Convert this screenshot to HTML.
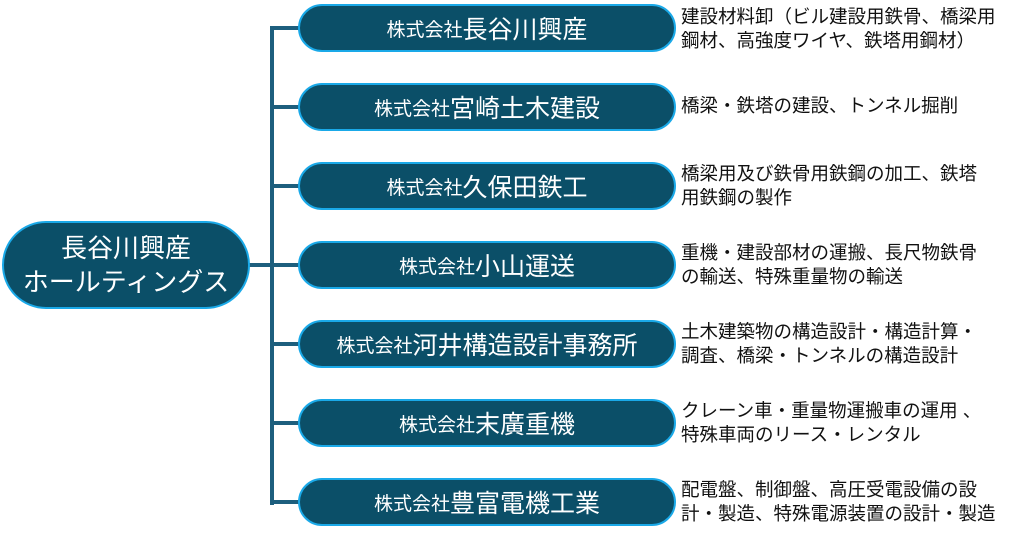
<!DOCTYPE html>
<html><head><meta charset="utf-8"><style>
body{margin:0;width:1024px;height:536px;background:#fff;position:relative;overflow:hidden;font-family:"Liberation Sans","Noto Sans CJK JP",sans-serif}
.b{position:absolute;background:#0b4f68;border:2px solid #1aa9e8;box-sizing:border-box;color:#fff;display:flex;align-items:center;justify-content:center;text-align:center}
.c{left:298px;width:378px;height:48px;border-radius:24px;font-size:25px}
.c small{font-size:19px}
.l{position:absolute;background:#1d5f7e}
.t{position:absolute;left:681px;font-size:18.5px;line-height:24px;color:#111;white-space:nowrap}
</style></head><body>
<div class="l" style="left:270px;top:27px;width:4px;height:478px"></div>
<div class="l" style="left:248px;top:263px;width:52px;height:4px"></div>
<div class="l" style="left:270px;top:26px;width:30px;height:4px"></div>
<div class="l" style="left:270px;top:105px;width:30px;height:4px"></div>
<div class="l" style="left:270px;top:184px;width:30px;height:4px"></div>
<div class="l" style="left:270px;top:342px;width:30px;height:4px"></div>
<div class="l" style="left:270px;top:421px;width:30px;height:4px"></div>
<div class="l" style="left:270px;top:500px;width:30px;height:4px"></div>
<div class="b" style="left:2px;top:221px;width:248px;height:88px;border-radius:44px;font-size:26px;line-height:34px">長谷川興産<br>ホールティングス</div>
<div class="b c" style="top:4px"><small>株式会社</small>長谷川興産</div>
<div class="b c" style="top:83px"><small>株式会社</small>宮崎土木建設</div>
<div class="b c" style="top:162px"><small>株式会社</small>久保田鉄工</div>
<div class="b c" style="top:241px"><small>株式会社</small>小山運送</div>
<div class="b c" style="top:320px"><small>株式会社</small>河井構造設計事務所</div>
<div class="b c" style="top:399px"><small>株式会社</small>末廣重機</div>
<div class="b c" style="top:478px"><small>株式会社</small>豊富電機工業</div>
<div class="t" style="top:5px">建設材料卸（ビル建設用鉄骨、橋梁用<br>鋼材、高強度ワイヤ、鉄塔用鋼材）</div>
<div class="t" style="top:94px">橋梁・鉄塔の建設、トンネル掘削</div>
<div class="t" style="top:162px">橋梁用及び鉄骨用鉄鋼の加工、鉄塔<br>用鉄鋼の製作</div>
<div class="t" style="top:241px">重機・建設部材の運搬、長尺物鉄骨<br>の輸送、特殊重量物の輸送</div>
<div class="t" style="top:320px">土木建築物の構造設計・構造計算・<br>調査、橋梁・トンネルの構造設計</div>
<div class="t" style="top:399px">クレーン車・重量物運搬車の運用 、<br>特殊車両のリース・レンタル</div>
<div class="t" style="top:478px">配電盤、制御盤、高圧受電設備の設<br>計・製造、特殊電源装置の設計・製造</div>
</body></html>
